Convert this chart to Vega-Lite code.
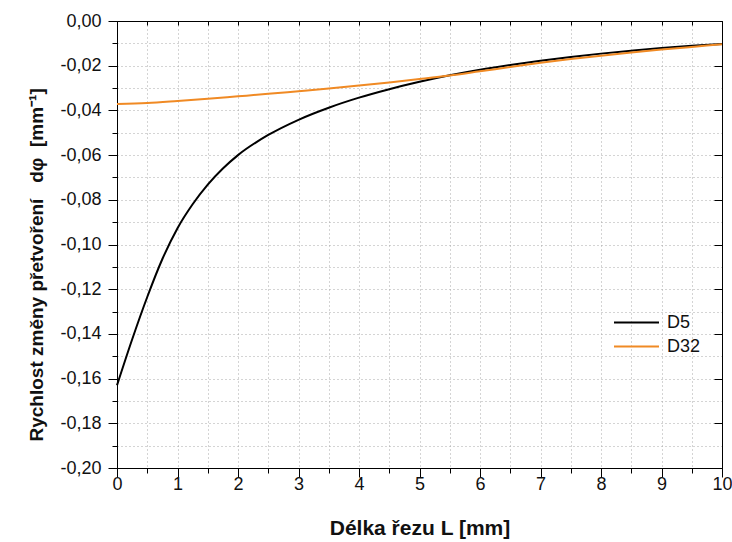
{
  "$schema": "https://vega.github.io/schema/vega-lite/v6.json",
  "width": 605,
  "height": 447,
  "autosize": {"type": "none"},
  "padding": {"left": 117, "top": 21, "right": 10, "bottom": 74},
  "background": "white",
  "config": {"view": {"stroke": "black", "strokeWidth": 1}, "font": "Liberation Sans"},
  "data": {"values": [
    {"L": 0, "dphi": -0.163, "series": "D5"},
    {"L": 0.25, "dphi": -0.1425, "series": "D5"},
    {"L": 0.5, "dphi": -0.1235, "series": "D5"},
    {"L": 0.75, "dphi": -0.1065, "series": "D5"},
    {"L": 1.0, "dphi": -0.0927, "series": "D5"},
    {"L": 1.25, "dphi": -0.0820, "series": "D5"},
    {"L": 1.5, "dphi": -0.0732, "series": "D5"},
    {"L": 1.75, "dphi": -0.0660, "series": "D5"},
    {"L": 2.0, "dphi": -0.0600, "series": "D5"},
    {"L": 2.5, "dphi": -0.0510, "series": "D5"},
    {"L": 3.0, "dphi": -0.0442, "series": "D5"},
    {"L": 3.5, "dphi": -0.0388, "series": "D5"},
    {"L": 4.0, "dphi": -0.0343, "series": "D5"},
    {"L": 4.5, "dphi": -0.0305, "series": "D5"},
    {"L": 5.0, "dphi": -0.0272, "series": "D5"},
    {"L": 5.5, "dphi": -0.0243, "series": "D5"},
    {"L": 6.0, "dphi": -0.0218, "series": "D5"},
    {"L": 6.5, "dphi": -0.0197, "series": "D5"},
    {"L": 7.0, "dphi": -0.0178, "series": "D5"},
    {"L": 7.5, "dphi": -0.0161, "series": "D5"},
    {"L": 8.0, "dphi": -0.0146, "series": "D5"},
    {"L": 8.5, "dphi": -0.0133, "series": "D5"},
    {"L": 9.0, "dphi": -0.0121, "series": "D5"},
    {"L": 9.5, "dphi": -0.0111, "series": "D5"},
    {"L": 10.0, "dphi": -0.0103, "series": "D5"},
    {"L": 0, "dphi": -0.0371, "series": "D32"},
    {"L": 0.5, "dphi": -0.0367, "series": "D32"},
    {"L": 1, "dphi": -0.0358, "series": "D32"},
    {"L": 1.5, "dphi": -0.0348, "series": "D32"},
    {"L": 2, "dphi": -0.0337, "series": "D32"},
    {"L": 2.5, "dphi": -0.0326, "series": "D32"},
    {"L": 3, "dphi": -0.0314, "series": "D32"},
    {"L": 3.5, "dphi": -0.0302, "series": "D32"},
    {"L": 4, "dphi": -0.0289, "series": "D32"},
    {"L": 4.5, "dphi": -0.0275, "series": "D32"},
    {"L": 5, "dphi": -0.0260, "series": "D32"},
    {"L": 5.5, "dphi": -0.0244, "series": "D32"},
    {"L": 6, "dphi": -0.0225, "series": "D32"},
    {"L": 6.5, "dphi": -0.0206, "series": "D32"},
    {"L": 7, "dphi": -0.0187, "series": "D32"},
    {"L": 7.5, "dphi": -0.0170, "series": "D32"},
    {"L": 8, "dphi": -0.0155, "series": "D32"},
    {"L": 8.5, "dphi": -0.0141, "series": "D32"},
    {"L": 9, "dphi": -0.0128, "series": "D32"},
    {"L": 9.5, "dphi": -0.0116, "series": "D32"},
    {"L": 10, "dphi": -0.0104, "series": "D32"}
  ]},
  "layer": [
    {
      "transform": [{"filter": "datum.series === 'D5'"}],
      "mark": {"type": "line", "strokeWidth": 2, "interpolate": "monotone"},
      "encoding": {
        "x": {"field": "L", "type": "quantitative",
          "scale": {"domain": [0, 10], "nice": false, "zero": false},
          "axis": {"orient": "bottom",
            "values": [0,0.5,1,1.5,2,2.5,3,3.5,4,4.5,5,5.5,6,6.5,7,7.5,8,8.5,9,9.5,10],
            "labelExpr": "datum.value % 1 === 0 ? format(datum.value, 'd') : ''",
            "grid": true, "gridColor": "#a8a8a8", "gridDash": [1, 3], "gridWidth": 1,
            "tickSize": {"condition": {"test": "datum.value % 1 === 0", "value": 9}, "value": 5},
            "tickColor": "black", "domainColor": "black", "labelColor": "#111111",
            "labelFontSize": 18, "labelPadding": -2, "labelFlush": false,
            "title": "Délka řezu L [mm]", "titleFontSize": 21, "titleFontWeight": "bold",
            "titleColor": "#111111", "titlePadding": 24}},
        "y": {"field": "dphi", "type": "quantitative",
          "scale": {"domain": [-0.2, 0], "nice": false, "zero": false},
          "axis": {"orient": "left",
            "values": [-0.2,-0.19,-0.18,-0.17,-0.16,-0.15,-0.14,-0.13,-0.12,-0.11,-0.1,-0.09,-0.08,-0.07,-0.06,-0.05,-0.04,-0.03,-0.02,-0.01,0],
            "labelExpr": "abs(round(datum.value*100)) % 2 === 0 ? (datum.value < -0.0001 ? '-' : '') + replace(format(abs(datum.value), '.2f'), '.', ',') : ''",
            "grid": true, "gridColor": "#a8a8a8", "gridDash": [1, 3], "gridWidth": 1,
            "tickSize": {"condition": {"test": "abs(round(datum.value*100)) % 2 === 0", "value": 9}, "value": 5},
            "tickColor": "black", "domainColor": "black", "labelColor": "#111111",
            "labelFontSize": 18, "labelPadding": 7, "labelFlush": false,
            "title": "Rychlost změny přetvoření\u00a0\u00a0\u00a0dφ\u00a0\u00a0[mm⁻¹]", "titleFontSize": 19, "titleFontWeight": "bold",
            "titleColor": "#111111", "titlePadding": 13, "titleY": 420, "titleAlign": "left"}},
        "color": {"field": "series", "type": "nominal",
          "scale": {"domain": ["D5", "D32"], "range": ["#000000", "#f08a24"]},
          "legend": {"orient": "none", "legendX": 496, "legendY": 292, "title": null,
            "symbolType": "stroke", "symbolSize": 2025, "symbolStrokeWidth": 2,
            "clipHeight": 19, "labelFontSize": 18, "labelOffset": 7, "rowPadding": 5,
            "padding": 0, "labelColor": "#111111"}}
      }
    },
    {
      "transform": [{"filter": "datum.series === 'D32'"}],
      "mark": {"type": "line", "strokeWidth": 2, "interpolate": "monotone"},
      "encoding": {
        "x": {"field": "L", "type": "quantitative",
          "scale": {"domain": [0, 10], "nice": false, "zero": false},
          "axis": {"orient": "top",
            "values": [0,0.5,1,1.5,2,2.5,3,3.5,4,4.5,5,5.5,6,6.5,7,7.5,8,8.5,9,9.5,10],
            "labels": false, "grid": false, "tickSize": -4, "tickColor": "black",
            "domainColor": "black", "title": null}},
        "y": {"field": "dphi", "type": "quantitative",
          "scale": {"domain": [-0.2, 0], "nice": false, "zero": false},
          "axis": {"orient": "right",
            "values": [-0.2,-0.18,-0.16,-0.14,-0.12,-0.1,-0.08,-0.06,-0.04,-0.02,0],
            "labels": false, "grid": false, "tickSize": -8, "tickColor": "black",
            "domainColor": "black", "title": null}},
        "color": {"field": "series", "type": "nominal",
          "scale": {"domain": ["D5", "D32"], "range": ["#000000", "#f08a24"]}}
      }
    }
  ],
  "resolve": {"axis": {"x": "independent", "y": "independent"}}
}
